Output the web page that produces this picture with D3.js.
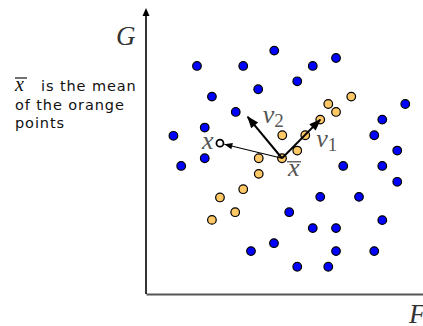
<!DOCTYPE html>
<html>
<head>
<meta charset="utf-8">
<script src="https://cdn.jsdelivr.net/npm/d3@7"></script>
<style>
	body { margin: 0; background: #fff; }
	.math { font-family: "Liberation Serif", "DejaVu Serif", serif; font-style: italic; }
	.note { font-family: "DejaVu Sans", sans-serif; font-size: 14.5px; letter-spacing: 0.9px; fill: #111; }
</style>
</head>
<body>
<div id="chart"></div>
<script>
// blue points (F, G)
var blueF = [4.63, 1.84, 3.51, 2.38, 4.05, 3.24, 2.12, 0.99, 6.86, 6.02, 5.46, 9.36, 8.53, 8.24, 9.07, 1.27,
	2.12, 7.12, 8.53, 9.07, 6.29, 7.69, 5.17, 6.02, 6.86, 8.53, 3.79, 4.62, 6.86, 8.24, 5.46, 6.58];
var blueG = [8.57, 8.03, 8.03, 6.95, 7.21, 6.41, 5.86, 5.57, 8.31, 8.03, 7.49, 6.69, 6.14, 5.59, 5.05, 4.51,
	4.78, 4.51, 4.51, 3.95, 3.42, 3.42, 2.88, 2.32, 2.32, 2.60, 1.51, 1.79, 1.51, 1.51, 0.96, 0.96];

// orange points (F, G)
var orangeF = [4.92, 5.75, 6.58, 7.41, 6.86, 6.29, 5.46, 4.07, 4.91, 4.07, 3.51, 2.67, 3.22, 2.38];
var orangeG = [5.59, 5.59, 6.69, 6.95, 6.41, 6.14, 5.05, 4.78, 4.78, 4.23, 3.69, 3.40, 2.88, 2.61];

var meanPoint = [4.91, 4.78];
var v1Tip = [6.29, 6.14];
var v2Tip = [3.67, 6.24];
var xPoint = [2.67, 5.31];

var noteLines = ["is the mean", "of the orange", "points"];

var width = 423;
var height = 326;

var svg = d3.select("#chart").append("svg")
	.attr("width", width)
	.attr("height", height);

var x = d3.scaleLinear().domain([0, 10]).range([146, 423]);
var y = d3.scaleLinear().domain([0, 10]).range([294, 10]);

var defs = svg.append("defs");
function marker(id, len, half, refX) {
	defs.append("marker")
		.attr("id", id)
		.attr("markerUnits", "userSpaceOnUse")
		.attr("viewBox", (-1) + " " + (-half - 1) + " " + (len + 2) + " " + (2 * half + 2))
		.attr("markerWidth", len + 2)
		.attr("markerHeight", 2 * half + 2)
		.attr("refX", refX)
		.attr("refY", 0)
		.attr("orient", "auto")
		.append("path")
		.attr("d", "M0," + (-half) + "L" + len + ",0L0," + half + "Z")
		.attr("fill", "#000");
}
marker("axisHead", 8, 3.5, 6);
marker("vecHead", 12, 4.5, 11);
marker("smallHead", 8, 3.2, 8);

// axes
var xAxis = svg.append("g")
	.attr("transform", "translate(0," + y(0) + ")")
	.call(d3.axisBottom(x).tickValues([]).tickSizeOuter(0));
xAxis.select(".domain").attr("stroke", "#555").attr("stroke-width", 2);

var yAxis = svg.append("g")
	.attr("transform", "translate(" + x(0) + ",0)")
	.call(d3.axisLeft(y).tickValues([]).tickSizeOuter(0));
yAxis.select(".domain")
	.attr("stroke", "#000")
	.attr("stroke-width", 1.6)
	.attr("d", "M0," + y(0) + "V" + y(10))
	.attr("marker-end", "url(#axisHead)");

svg.append("text").attr("class", "math")
	.attr("x", 116).attr("y", 45)
	.attr("font-size", 27).attr("fill", "#333")
	.text("G");
svg.append("text").attr("class", "math")
	.attr("x", 409).attr("y", 323)
	.attr("font-size", 27).attr("fill", "#333")
	.text("F");

// points
var pts = svg.append("g");
pts.selectAll(".blue").data(blueF).enter()
	.append("circle")
	.attr("class", "blue")
	.attr("cx", function(d) { return x(d); })
	.attr("cy", function(d, i) { return y(blueG[i]); })
	.attr("r", 4.3)
	.attr("fill", "#0000ff")
	.attr("stroke", "#000")
	.attr("stroke-width", 1.2);
pts.selectAll(".orange").data(orangeF).enter()
	.append("circle")
	.attr("class", "orange")
	.attr("cx", function(d) { return x(d); })
	.attr("cy", function(d, i) { return y(orangeG[i]); })
	.attr("r", 4.3)
	.attr("fill", "#fdc865")
	.attr("stroke", "#000")
	.attr("stroke-width", 1.2);

// vectors
var mx = x(meanPoint[0]), my = y(meanPoint[1]);
var arrows = svg.append("g");
arrows.append("line")
	.attr("x1", mx).attr("y1", my)
	.attr("x2", x(v1Tip[0])).attr("y2", y(v1Tip[1]))
	.attr("stroke", "#000").attr("stroke-width", 2)
	.attr("marker-end", "url(#vecHead)");
arrows.append("line")
	.attr("x1", mx).attr("y1", my)
	.attr("x2", x(v2Tip[0])).attr("y2", y(v2Tip[1]))
	.attr("stroke", "#000").attr("stroke-width", 2)
	.attr("marker-end", "url(#vecHead)");

var px = x(xPoint[0]), py = y(xPoint[1]);
var dx = px - mx, dy = py - my;
var dl = Math.sqrt(dx*dx + dy*dy);
arrows.append("line")
	.attr("x1", mx).attr("y1", my)
	.attr("x2", px - dx/dl*4.5).attr("y2", py - dy/dl*4.5)
	.attr("stroke", "#000").attr("stroke-width", 1.1)
	.attr("marker-end", "url(#smallHead)");
arrows.append("circle")
	.attr("cx", px).attr("cy", py).attr("r", 3.5)
	.attr("fill", "#fff").attr("stroke", "#000").attr("stroke-width", 1.8);

// labels
var labels = svg.append("g").attr("class", "math").attr("fill", "#555");
labels.append("text")
	.attr("x", px - 18).attr("y", py + 6)
	.attr("font-size", 26)
	.text("x");
var v2 = labels.append("text")
	.attr("x", x(v2Tip[0]) + 15).attr("y", y(v2Tip[1]) + 6)
	.attr("font-size", 26);
v2.append("tspan").text("v");
v2.append("tspan").attr("dy", 4).attr("font-size", 19).attr("font-style", "normal").text("2");
var v1 = labels.append("text")
	.attr("x", x(v1Tip[0]) - 4).attr("y", y(v1Tip[1]) + 27)
	.attr("font-size", 26);
v1.append("tspan").text("v");
v1.append("tspan").attr("dy", 4).attr("font-size", 19).attr("font-style", "normal").text("1");
labels.append("text")
	.attr("x", mx + 6).attr("y", my + 18)
	.attr("font-size", 26)
	.text("x");
labels.append("line")
	.attr("x1", mx + 5).attr("x2", mx + 19)
	.attr("y1", my + 3.5).attr("y2", my + 3.5)
	.attr("stroke", "#555").attr("stroke-width", 1.3);

// note on the left
var note = svg.append("g");
note.append("text").attr("class", "math")
	.attr("x", 15).attr("y", 91)
	.attr("font-size", 20).attr("fill", "#111")
	.text("x");
note.append("line")
	.attr("x1", 15).attr("x2", 27)
	.attr("y1", 78).attr("y2", 78)
	.attr("stroke", "#111").attr("stroke-width", 1.2);
note.selectAll(".note").data(noteLines).enter()
	.append("text")
	.attr("class", "note")
	.attr("x", function(d, i) { return i == 0 ? 41 : 15; })
	.attr("y", function(d, i) { return 91 + i*18.5; })
	.text(function(d) { return d; });
</script>
</body>
</html>
